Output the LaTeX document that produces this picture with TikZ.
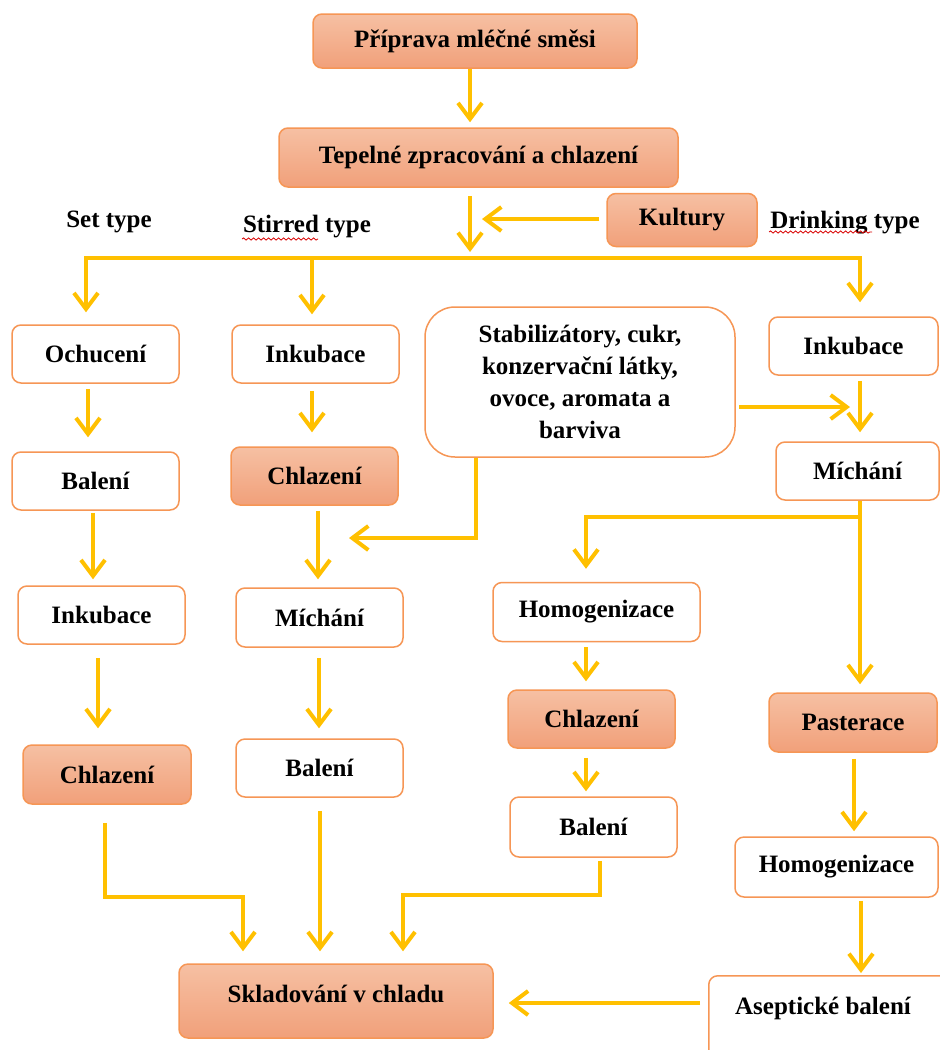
\documentclass[tikz,border=0pt]{standalone}
\usepackage{fontspec}
\setmainfont{Liberation Serif}
\usetikzlibrary{arrows.meta,decorations.pathmorphing}
\definecolor{arrowc}{RGB}{255,192,0}
\definecolor{boxline}{RGB}{246,150,85}
\definecolor{fillTop}{RGB}{246,192,163}
\definecolor{fillBot}{RGB}{241,160,122}
\tikzset{
  txt/.style={font=\fontsize{25}{32}\selectfont\bfseries, text=black, align=center, inner sep=0pt},
  wbox/.style={txt, draw=boxline, line width=1.5pt, rounded corners=9pt, fill=white},
  obox/.style={wbox, top color=fillTop, bottom color=fillBot},
  arr/.style={draw=arrowc, line width=4pt, -{Straight Barb[length=16pt,width=24pt]}},
  plain/.style={draw=arrowc, line width=4pt},
  spell/.style={draw=red!85!black, line width=0.8pt, decorate, decoration={snake, amplitude=1.1pt, segment length=5pt}}
}
\begin{document}
\begin{tikzpicture}[x=1pt,y=-1pt]
\path[use as bounding box, clip] (0,0) rectangle (940,1050);
\fill[white] (0,0) rectangle (940,1050);

% nodes
\node[obox, minimum width=324pt, minimum height=54pt] (p1) at (475,41) {Příprava mléčné směsi};
\node[obox, minimum width=399pt, minimum height=59pt] (p2) at (478.5,157.5) {Tepelné zpracování a chlazení};
\node[obox, minimum width=150pt, minimum height=53pt] (kult) at (682,220) {Kultury};

\node[txt] (settype) at (109,222) {Set type};
\node[txt] (stirtype) at (307,227) {Stirred type};
\node[txt] (drinktype) at (845,223) {Drinking type};

\node[wbox, minimum width=167pt, minimum height=58pt] (och) at (95.5,354) {Ochucení};
\node[wbox, minimum width=167pt, minimum height=58pt] (ink1) at (315.5,354) {Inkubace};
\node[wbox, minimum width=310pt, minimum height=150pt, rounded corners=30pt] (stab) at (580,382) {Stabilizátory, cukr,\\konzervační látky,\\ovoce, aromata a\\barviva};
\node[wbox, minimum width=169pt, minimum height=58pt] (ink2) at (853.5,346) {Inkubace};

\node[wbox, minimum width=167pt, minimum height=58pt] (bal1) at (95.5,481) {Balení};
\node[obox, minimum width=167pt, minimum height=58pt] (chl1) at (314.5,476) {Chlazení};
\node[wbox, minimum width=163pt, minimum height=58pt] (mich2) at (857.5,471) {Míchání};

\node[wbox, minimum width=167pt, minimum height=58pt] (ink3) at (101.5,615) {Inkubace};
\node[wbox, minimum width=167pt, minimum height=59pt] (mich1) at (319.5,617.5) {Míchání};
\node[wbox, minimum width=207pt, minimum height=59pt] (hom1) at (596.5,612) {Homogenizace};

\node[obox, minimum width=168pt, minimum height=59pt] (chl3) at (107,774.5) {Chlazení};
\node[wbox, minimum width=167pt, minimum height=58pt] (bal2) at (319.5,768) {Balení};
\node[obox, minimum width=167pt, minimum height=58pt] (chl2) at (591.5,719) {Chlazení};
\node[obox, minimum width=168pt, minimum height=59pt] (past) at (853,722.5) {Pasterace};
\node[wbox, minimum width=167pt, minimum height=60pt] (bal3) at (593.5,827) {Balení};
\node[wbox, minimum width=203pt, minimum height=60pt] (hom2) at (836.5,867) {Homogenizace};

\node[obox, minimum width=314pt, minimum height=74pt, text depth=14pt] (skl) at (336,1001) {Skladování v chladu};
\node[wbox, minimum width=252pt, minimum height=114pt, anchor=north west] (asep) at (708,975) {};
\node[txt] (aseptxt) at (823,1008) {Aseptické balení};

% spell-check underlines
\draw[spell] (242,239) -- (318,239);
\draw[spell] (769,232) -- (872,232);

% coordinates
\coordinate (busL) at (86,258);
\coordinate (busR) at (860,258);
\coordinate (busin) at (470,252);
\coordinate (kin) at (482,219);
\coordinate (stabin) at (349,538);
\coordinate (stabin2) at (850,407);
\coordinate (br) at (860,517);

% connectors
\draw[arr, shorten >=5pt] (p1.south -| 470,0) -- (p2.north -| 470,0);
\draw[arr, shorten <=8pt] (p2.south -| 470,0) -- (busin);
\draw[arr, shorten <=7pt] (kult.west |- 0,219) -- (kin);
\draw[plain, line cap=rect] (busL) -- (busR);
\draw[arr, shorten >=12pt] (busL) -- (och.north -| busL);
\draw[arr, shorten >=10pt] (312,258) -- (ink1.north -| 312,0);
\draw[arr, shorten >=14pt] (busR) -- (ink2.north -| busR);

\draw[arr, shorten <=5pt, shorten >=14pt] (och.south -| 88,0) -- (bal1.north -| 88,0);
\draw[arr, shorten <=2pt, shorten >=6pt] (bal1.south -| 93,0) -- (ink3.north -| 93,0);
\draw[arr, shorten <=13pt, shorten >=16pt] (ink3.south -| 98,0) -- (chl3.north -| 98,0);
\draw[arr, shorten <=18pt, shorten >=12pt] (chl3.south -| 105,0) |- (243,897) -- (skl.north -| 243,0);

\draw[arr, shorten <=7pt, shorten >=14pt] (ink1.south -| 312,0) -- (chl1.north -| 312,0);
\draw[arr, shorten <=5pt, shorten >=8pt] (chl1.south -| 318,0) -- (mich1.north -| 318,0);
\draw[arr, shorten <=10pt, shorten >=10pt] (mich1.south -| 319,0) -- (bal2.north -| 319,0);
\draw[arr, shorten <=13pt, shorten >=12pt] (bal2.south -| 320,0) -- (skl.north -| 320,0);

\draw[arr] (stab.south -| 476,0) |- (stabin);
\draw[arr, shorten <=3pt] (stab.east |- 0,407) -- (stabin2);

\draw[arr, shorten <=5pt, shorten >=9pt] (ink2.south -| 860,0) -- (mich2.north -| 860,0);
\draw[arr, shorten >=8pt] (mich2.south -| 860,0) -- (past.north -| 860,0);
\draw[arr, shorten >=13pt] (br) -| (hom1.north -| 586,0);
\draw[arr, shorten <=5pt, shorten >=8pt] (hom1.south -| 586,0) -- (chl2.north -| 586,0);
\draw[arr, shorten <=9pt, shorten >=5pt] (chl2.south -| 586,0) -- (bal3.north -| 586,0);
\draw[arr, shorten <=3pt, shorten >=12pt] (bal3.south -| 600,0) |- (403,895) -- (skl.north -| 403,0);

\draw[arr, shorten <=6pt, shorten >=5pt] (past.south -| 854,0) -- (hom2.north -| 854,0);
\draw[arr, shorten <=3pt, shorten >=2pt] (hom2.south -| 861,0) -- (asep.north -| 861,0);
\draw[arr, shorten <=8pt, shorten >=15pt] (asep.west |- 0,1003) -- (skl.east |- 0,1003);
\end{tikzpicture}
\end{document}
